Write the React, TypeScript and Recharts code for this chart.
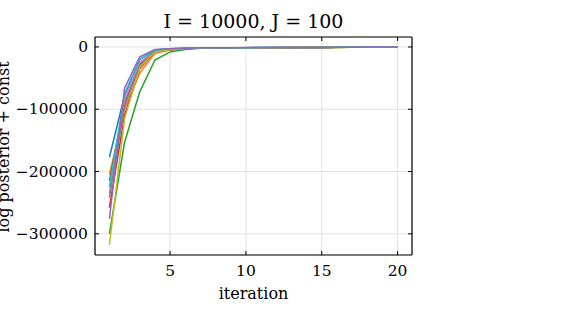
import React from 'react';
import {
  LineChart,
  Line,
  XAxis,
  YAxis,
  CartesianGrid,
} from 'recharts';

const iterations = [1, 2, 3, 4, 5, 6, 7, 8, 9, 10, 11, 12, 13, 14, 15, 16, 17, 18, 19, 20];

const runBlue = [-177000, -78000, -20000, -5000, -3000, -2000, -1300, -1200, -1100, -1100, -1000, -1000, -1000, -900, -900, -600, -300, -200, -100, -100];
const runOrange = [-205000, -100000, -42000, -10000, -5000, -2500, -1500, -1300, -1200, -1200, -1100, -1100, -1100, -1000, -1000, -700, -300, -200, -150, -100];
const runGreen = [-300000, -153000, -72000, -21000, -8000, -4000, -1900, -1500, -1300, -1200, -1200, -1100, -1100, -1000, -1000, -700, -400, -300, -200, -100];
const runRed = [-258000, -110000, -35000, -8000, -4500, -2500, -1500, -1300, -1200, -1200, -1100, -1100, -1000, -1000, -900, -600, -300, -200, -100, -100];
const runPurple = [-276000, -66000, -16000, -4000, -3000, -2000, -1200, -1100, -1100, -1000, -1000, -1000, -900, -900, -900, -600, -300, -200, -100, -100];
const runBrown = [-215000, -90000, -28000, -7000, -4000, -2300, -1400, -1200, -1200, -1100, -1100, -1000, -1000, -1000, -900, -600, -300, -200, -100, -100];
const runPink = [-235000, -85000, -25000, -6000, -3500, -2200, -1300, -1200, -1100, -1100, -1000, -1000, -1000, -900, -900, -600, -300, -200, -100, -100];
const runGray = [-242000, -95000, -30000, -7000, -4000, -2400, -1400, -1300, -1200, -1100, -1100, -1000, -1000, -1000, -900, -600, -300, -200, -100, -100];
const runOlive = [-318000, -115000, -33000, -8000, -4500, -2500, -1500, -1300, -1200, -1200, -1100, -1100, -1000, -1000, -900, -600, -300, -200, -100, -100];
const runCyan = [-225000, -75000, -20000, -5000, -3000, -2000, -1300, -1200, -1100, -1100, -1000, -1000, -900, -900, -900, -600, -300, -200, -100, -100];

// purple drawn last, it sits on top of the bundle in the reference
const runs = [
  { key: 'blue', values: runBlue, color: '#1f77b4' },
  { key: 'orange', values: runOrange, color: '#ff7f0e' },
  { key: 'green', values: runGreen, color: '#2ca02c' },
  { key: 'red', values: runRed, color: '#d62728' },
  { key: 'brown', values: runBrown, color: '#8c564b' },
  { key: 'pink', values: runPink, color: '#e377c2' },
  { key: 'gray', values: runGray, color: '#7f7f7f' },
  { key: 'olive', values: runOlive, color: '#bcbd22' },
  { key: 'cyan', values: runCyan, color: '#17becf' },
  { key: 'purple', values: runPurple, color: '#9467bd' },
];

const xTicks = [5, 10, 15, 20];
const yTicks = [0, -100000, -200000, -300000];
const xDomain = [0.05, 20.95];
const yDomain = [-334000, 16000];

const data = iterations.map((it, i) => {
  const row: { [key: string]: number } = { iteration: it };
  runs.forEach((r) => {
    row[r.key] = r.values[i];
  });
  return row;
});

const FONT = '"DejaVu Serif", serif';

const fmtY = (v: number) => (v < 0 ? '\u2212' + Math.abs(v) : String(v));

const renderLeftTick = (props: any) => {
  const { x, y, payload } = props;
  return (
    <g>
      <line x1={x} y1={y} x2={x + 4} y2={y} stroke="#000" strokeWidth={1} />
      <text x={x - 7} y={y} dy={5} textAnchor="end" fontFamily={FONT} fontSize={15.5} fill="#000">
        {fmtY(payload.value)}
      </text>
    </g>
  );
};

const renderRightTick = (props: any) => {
  const { x, y } = props;
  return <line x1={x} y1={y} x2={x - 4} y2={y} stroke="#000" strokeWidth={1} />;
};

const renderBottomTick = (props: any) => {
  const { x, y, payload } = props;
  return (
    <g>
      <line x1={x} y1={y} x2={x} y2={y - 4} stroke="#000" strokeWidth={1} />
      <text x={x} y={y + 21} textAnchor="middle" fontFamily={FONT} fontSize={15.5} fill="#000">
        {payload.value}
      </text>
    </g>
  );
};

const renderTopTick = (props: any) => {
  const { x, y } = props;
  return <line x1={x} y1={y} x2={x} y2={y + 4} stroke="#000" strokeWidth={1} />;
};

const axisStroke = { stroke: '#000', strokeWidth: 1.2 };

export default function App() {
  return (
    <div style={{ position: 'absolute', left: 0, top: 0, width: 584, height: 319, background: '#fff' }}>
      <LineChart
        width={584}
        height={319}
        data={data}
        margin={{ top: 27, right: 162, bottom: 34, left: 15 }}
      >
        <CartesianGrid stroke="#dcdcdc" strokeWidth={0.8} />
        <XAxis
          dataKey="iteration"
          type="number"
          domain={xDomain}
          ticks={xTicks}
          allowDataOverflow
          height={30}
          tickSize={0}
          tickMargin={0}
          tickLine={false}
          tick={renderBottomTick}
          axisLine={axisStroke}
          interval={0}
        />
        <XAxis
          xAxisId="top"
          dataKey="iteration"
          orientation="top"
          type="number"
          domain={xDomain}
          ticks={xTicks}
          allowDataOverflow
          height={10}
          tickSize={0}
          tickMargin={0}
          tickLine={false}
          tick={renderTopTick}
          axisLine={axisStroke}
          interval={0}
        />
        <YAxis
          type="number"
          domain={yDomain}
          ticks={yTicks}
          allowDataOverflow
          width={80}
          tickSize={0}
          tickMargin={0}
          tickLine={false}
          tick={renderLeftTick}
          axisLine={axisStroke}
          interval={0}
        />
        <YAxis
          yAxisId="right"
          orientation="right"
          type="number"
          domain={yDomain}
          ticks={yTicks}
          allowDataOverflow
          width={10}
          tickSize={0}
          tickMargin={0}
          tickLine={false}
          tick={renderRightTick}
          axisLine={axisStroke}
          interval={0}
        />
        {/* invisible series so the top/right frame axes have data */}
        <Line
          xAxisId="top"
          yAxisId="right"
          dataKey="blue"
          stroke="none"
          dot={false}
          activeDot={false}
          legendType="none"
          isAnimationActive={false}
        />
        {runs.map((r) => (
          <Line
            key={r.key}
            dataKey={r.key}
            stroke={r.color}
            strokeWidth={1.5}
            dot={false}
            activeDot={false}
            isAnimationActive={false}
          />
        ))}
      </LineChart>
      <svg
        width={584}
        height={319}
        style={{ position: 'absolute', left: 0, top: 0, pointerEvents: 'none' }}
      >
        <text x={253.5} y={28} textAnchor="middle" fontFamily={FONT} fontSize={19} fill="#000">
          I = 10000, J = 100
        </text>
        <text x={253.5} y={299} textAnchor="middle" fontFamily={FONT} fontSize={16} fill="#000">
          iteration
        </text>
        <text
          x={0}
          y={0}
          transform="translate(9,147) rotate(-90)"
          textAnchor="middle"
          fontFamily={FONT}
          fontSize={16}
          fill="#000"
        >
          log posterior + const
        </text>
      </svg>
    </div>
  );
}
